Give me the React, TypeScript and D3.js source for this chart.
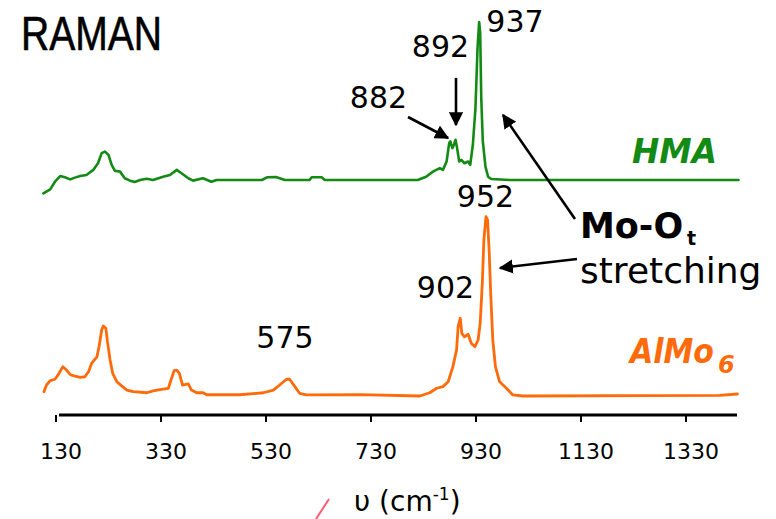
import React from "react";
import * as d3 from "d3";

// HMA Raman spectrum (wavenumber cm-1, normalized intensity)
const hmaWave = [106, 119, 128, 138, 147, 157, 166, 176, 188, 201, 210, 217, 223, 230, 236, 242, 252, 261, 271, 280, 290, 303, 315, 334, 347, 360, 369, 382, 391, 410, 426, 436, 480, 522, 532, 549, 566, 613, 617, 636, 642, 819, 835, 848, 861, 867, 874, 879, 881, 885, 888, 891, 894, 898, 902, 908, 915, 919, 924, 929, 933, 936, 938, 940, 943, 948, 953, 959, 994, 1430];
const hmaInt = [-8.5, -5.9, -1.1, 2.5, 1.7, 0.4, 1.5, 2.5, 3.2, 6.4, 10.6, 17, 18, 15.9, 9.6, 5.9, 5.3, 1.1, -0.4, -1.3, 0, 0.8, 0, 2.1, 3.2, 6.4, 4.3, 1.1, -0.4, 1.1, -1.1, 0, 0, 0, 1.7, 1.9, 0, 0, 1.7, 1.7, 0, 0, 2.1, 5.3, 7.5, 6.4, 11.7, 23.4, 24.4, 20.2, 22.3, 25.5, 20.2, 11.7, 12.7, 10.6, 11.7, 9.6, 22.3, 45.7, 84, 100, 93, 52, 24.4, 8.5, 2.1, 0.6, 0, 0];

// AlMo6 Raman spectrum
const almoWave = [107, 112, 119, 128, 134, 143, 150, 158, 166, 176, 185, 192, 198, 208, 212, 217, 220, 225, 228, 233, 238, 246, 255, 265, 277, 303, 315, 331, 344, 349, 355, 360, 365, 371, 382, 388, 398, 410, 417, 480, 525, 544, 556, 569, 575, 585, 594, 607, 709, 823, 842, 855, 867, 877, 886, 893, 896, 900, 903, 908, 915, 921, 928, 934, 938, 942, 945, 949, 952, 955, 958, 962, 967, 975, 988, 1000, 1019, 1394, 1428];
const almoInt = [2.4, 6.1, 8.5, 9.3, 11.7, 16.3, 14.4, 11.7, 11.1, 10.4, 10.7, 13.5, 18.2, 21.8, 27.4, 36.7, 38.9, 37.6, 30.2, 20, 12.6, 7.9, 5.6, 3.3, 2.4, 1.8, 2.8, 3.7, 4.3, 8.9, 14.1, 14.4, 12.6, 6.1, 6.7, 3.3, 1.8, 1.8, 0.7, 0.7, 1.8, 3.3, 6.1, 9.3, 9.3, 5.2, 1.5, 0.6, 0.8, 0, 1.8, 4.3, 5.2, 7.9, 16.3, 25.6, 38.5, 43.2, 34.8, 32.9, 34.3, 29.3, 27.4, 31.1, 40.4, 62.6, 86.7, 99.6, 97.8, 81.1, 57.1, 31.1, 16.3, 7.9, 4.3, 0.6, 0, 0.3, 1.1];

const tickValues = [130, 330, 530, 730, 930, 1130, 1330];

const GREEN = "#138a13";
const ORANGE = "#ff6a0a";

export default function App() {
  const x = d3.scaleLinear().domain([130, 1330]).range([56, 686]);
  const yH = d3.scaleLinear().domain([0, 100]).range([180, 22]);
  const yA = d3.scaleLinear().domain([0, 100]).range([396, 216]);

  const hma = hmaWave.map((w, i) => [w, hmaInt[i]] as [number, number]);
  const almo = almoWave.map((w, i) => [w, almoInt[i]] as [number, number]);

  const lineH = d3.line<[number, number]>().x(d => x(d[0])).y(d => yH(d[1]));
  const lineA = d3.line<[number, number]>().x(d => x(d[0])).y(d => yA(d[1]));

  const numFont = "'DejaVu Sans', Verdana, sans-serif";

  return (
    <svg
      width={776}
      height={519}
      style={{ position: "absolute", left: 0, top: 0, background: "#fff" }}
    >
      <defs>
        <marker id="ah" viewBox="0 0 10 10" refX="9" refY="5" markerWidth="5.5" markerHeight="5.5" orient="auto" markerUnits="strokeWidth">
          <path d="M0,0 L10,5 L0,10 z" fill="#000" />
        </marker>
      </defs>

      <text x={21} y={50} fontFamily="'Liberation Sans Narrow', 'Arial Narrow', 'Liberation Sans', sans-serif" fontSize={48} textLength={141} lengthAdjust="spacingAndGlyphs" fill="#000" stroke="#000" strokeWidth={0.6}>RAMAN</text>

      <path d={lineH(hma) || ""} fill="none" stroke={GREEN} strokeWidth={2.6} strokeLinejoin="round" strokeLinecap="round" />
      <path d={lineA(almo) || ""} fill="none" stroke={ORANGE} strokeWidth={2.8} strokeLinejoin="round" strokeLinecap="round" />

      {/* axis */}
      <line x1={59} x2={737} y1={415} y2={415} stroke="#000" strokeWidth={3} />
      {tickValues.map(t => (
        <g key={t}>
          <line x1={x(t)} x2={x(t)} y1={415} y2={422} stroke="#000" strokeWidth={2} />
          <text x={x(t) + 5} y={459} textAnchor="middle" fontFamily={numFont} fontSize={22} fill="#000">{t}</text>
        </g>
      ))}

      {/* axis label */}
      <line x1={316} y1={519} x2={329} y2={499} stroke="#ff5a6e" strokeWidth={2} />
      <text x={354} y={511} fontFamily={numFont} fontSize={28} fill="#000">
        υ (cm<tspan dy={-11} fontSize={17}>-1</tspan><tspan dy={11}>)</tspan>
      </text>

      {/* peak labels */}
      <text x={515} y={32} textAnchor="middle" fontFamily={numFont} fontSize={30}>937</text>
      <text x={440.5} y={57} textAnchor="middle" fontFamily={numFont} fontSize={30}>892</text>
      <text x={378.5} y={108} textAnchor="middle" fontFamily={numFont} fontSize={30}>882</text>
      <text x={485.5} y={207} textAnchor="middle" fontFamily={numFont} fontSize={30}>952</text>
      <text x={445.5} y={298} textAnchor="middle" fontFamily={numFont} fontSize={30}>902</text>
      <text x={285} y={348} textAnchor="middle" fontFamily={numFont} fontSize={30}>575</text>

      {/* arrows */}
      <line x1={408} y1={117} x2={448} y2={138} stroke="#000" strokeWidth={2.6} markerEnd="url(#ah)" />
      <line x1={456} y1={78} x2={456} y2={125} stroke="#000" strokeWidth={2.6} markerEnd="url(#ah)" />
      <line x1={575} y1={219} x2={503} y2={115} stroke="#000" strokeWidth={2.6} markerEnd="url(#ah)" />
      <line x1={577} y1={259} x2={500} y2={268} stroke="#000" strokeWidth={2.6} markerEnd="url(#ah)" />

      {/* Mo-Ot stretching */}
      <text x={580} y={238} fontFamily={numFont} fontWeight="bold" fontSize={35} fill="#000">Mo-O</text>
      <text x={687} y={245} fontFamily={numFont} fontWeight="bold" fontSize={19} fill="#000">t</text>
      <text x={580} y={283} fontFamily={numFont} fontSize={36} fill="#000">stretching</text>

      {/* series labels */}
      <text x={632} y={163} fontFamily={numFont} fontWeight="bold" fontStyle="italic" fontSize={34} textLength={85} lengthAdjust="spacingAndGlyphs" fill={GREEN}>HMA</text>
      <text transform="translate(630,363) scale(1,1.15)" x={0} y={0} fontFamily={numFont} fontWeight="bold" fontStyle="italic" fontSize={30} fill={ORANGE}>AlMo</text>
      <text x={718} y={373} fontFamily={numFont} fontWeight="bold" fontStyle="italic" fontSize={24} fill={ORANGE}>6</text>
    </svg>
  );
}
